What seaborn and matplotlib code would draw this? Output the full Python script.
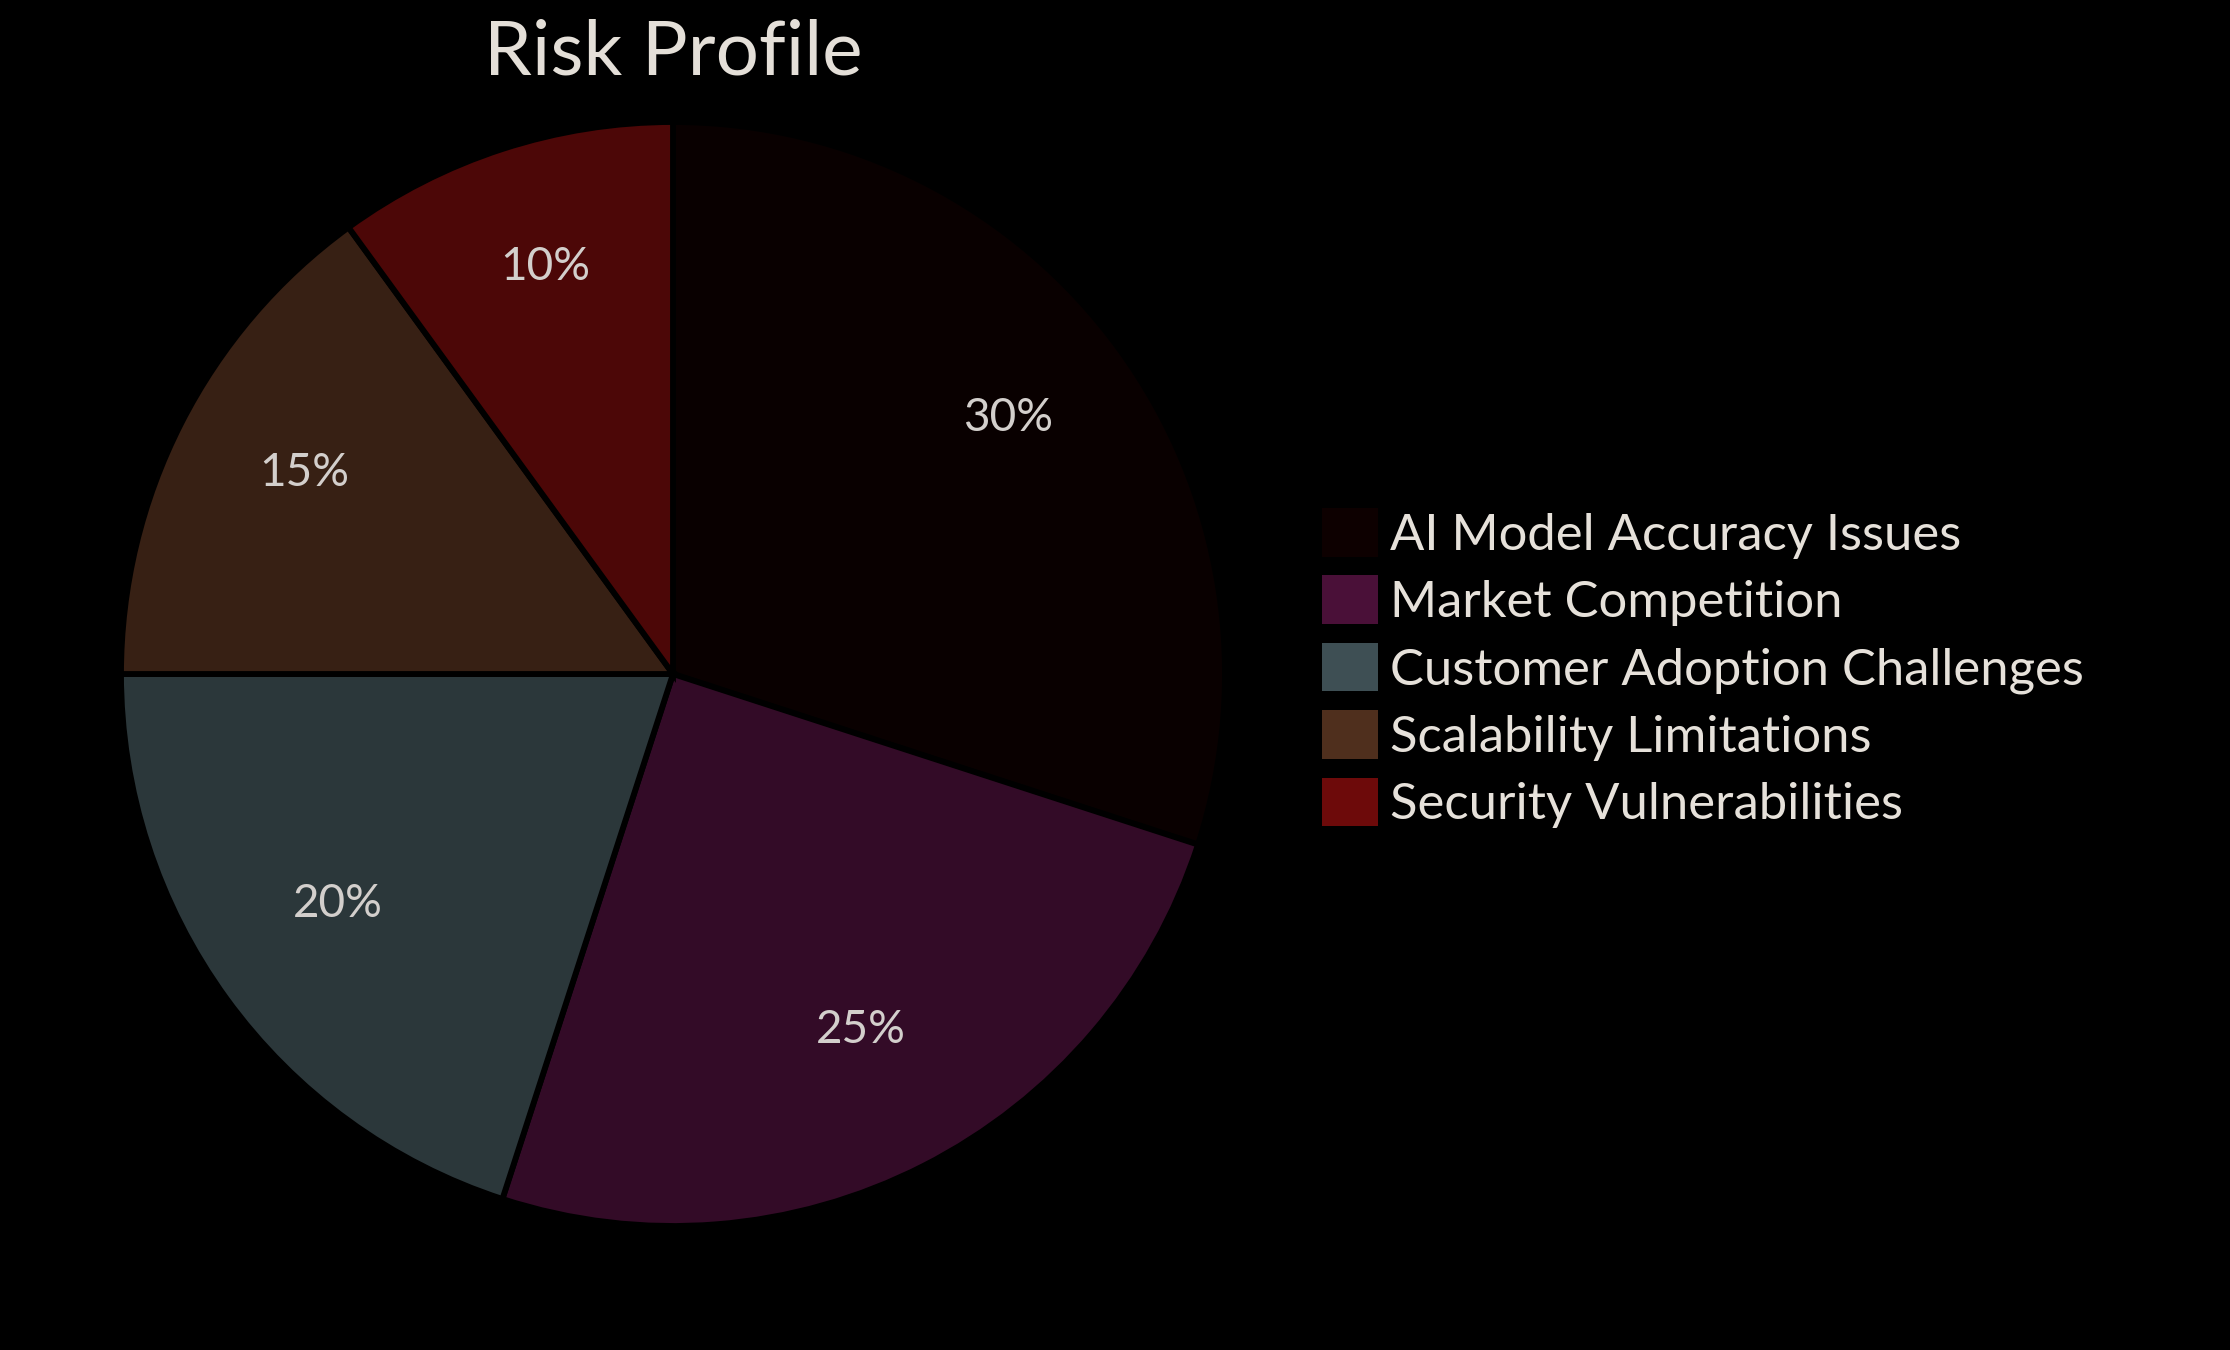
import matplotlib
matplotlib.use("Agg")
import matplotlib.pyplot as plt
from matplotlib.colors import to_rgba
from matplotlib.patches import Patch
import seaborn as sns

# data
categories = ["AI Model Accuracy Issues", "Market Competition",
              "Customer Adoption Challenges", "Scalability Limitations",
              "Security Vulnerabilities"]
shares = [30, 25, 20, 15, 10]
colors = ["#0d0000", "#4a1038", "#3e4f54", "#4f2f1d", "#6d0a0a"]

sns.set_style("dark", {"axes.facecolor": "black", "figure.facecolor": "black"})
plt.rcParams["font.family"] = ["Lato", "DejaVu Sans"]
palette = sns.color_palette(colors)

fig = plt.figure(figsize=(22.3, 13.5), dpi=100)
fig.patch.set_facecolor("black")

# pie area: centre (673, 674) px, radius ~552 px
W, H = 2230, 1350
cx, cy, r = 673, 674, 552
ax = fig.add_axes([(cx - r) / W, (H - cy - r) / H, 2 * r / W, 2 * r / H])
ax.set_facecolor("black")

# slices are drawn at 70% opacity, outlines stay solid black
slice_colors = [to_rgba(c, 0.7) for c in palette]
wedges, texts, autotexts = ax.pie(
    shares, colors=slice_colors, startangle=90, counterclock=False,
    autopct="%1.0f%%", pctdistance=0.75, radius=1,
    wedgeprops=dict(edgecolor="black", linewidth=4.2),
    textprops=dict(color="#d3cfcc", fontsize=33))
for t in autotexts:
    t.set_va("baseline")
ax.set_xlim(-1, 1)
ax.set_ylim(-1, 1)
ax.set_aspect("equal")
ax.axis("off")

fig.text(cx / W, 1 - 53 / H, "Risk Profile", ha="center", va="center",
         fontsize=55, color="#e4dfd8")

handles = [Patch(facecolor=c, edgecolor="none") for c in palette]
leg = fig.legend(handles, categories, loc="upper left",
                 bbox_to_anchor=(1322 / W, 1 - 508 / H),
                 frameon=False, fontsize=36.5, handlelength=1.1,
                 handleheight=1.1, labelspacing=0.33, handletextpad=0.25,
                 borderpad=0, borderaxespad=0)
for t in leg.get_texts():
    t.set_color("#e6e1da")

fig.savefig("out.png", dpi=100, facecolor="black")
